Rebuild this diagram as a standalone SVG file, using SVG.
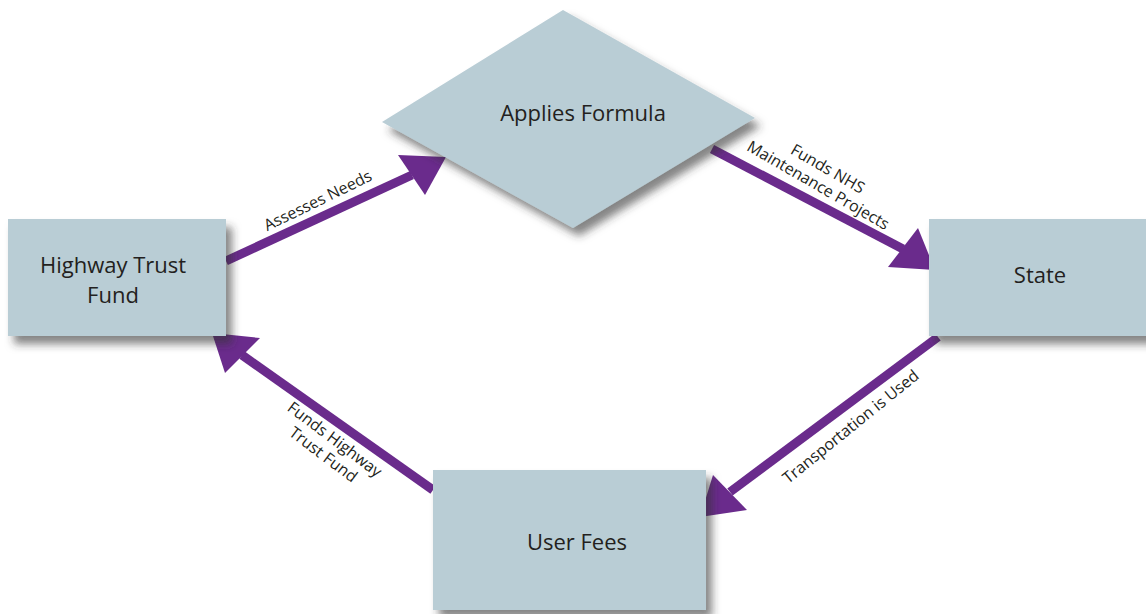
<svg xmlns="http://www.w3.org/2000/svg" width="1146" height="614" viewBox="0 0 1146 614">
<defs>
<filter id="sh" x="-20%" y="-20%" width="150%" height="150%">
<feDropShadow dx="6" dy="8" stdDeviation="4" flood-color="#333" flood-opacity="0.6"/>
</filter>
<style>
.box{fill:#b9cdd5;filter:url(#sh)}
.nt{font-family:"Open Sans","Liberation Sans",sans-serif;font-size:22px;fill:#231f20;text-anchor:middle}
.lt{font-family:"Open Sans","Liberation Sans",sans-serif;font-size:16px;fill:#231f20;text-anchor:middle}
.ln{stroke:#6a2b8c;stroke-width:9;fill:none}
.hd{fill:#6a2b8c}
</style>
</defs>
<rect width="1146" height="614" fill="#fff"/>
<g id="connectors">
<line class="ln" x1="226" y1="261" x2="412" y2="175"/>
<polygon class="hd" points="398,155 425,195 446,157"/>
<line class="ln" x1="712" y1="149" x2="903" y2="249"/>
<polygon class="hd" points="918,228 888,267 935,270"/>
<line class="ln" x1="938" y1="337" x2="730" y2="492"/>
<polygon class="hd" points="713,475 747,510 700,517"/>
<line class="ln" x1="433" y1="490" x2="242" y2="355"/>
<polygon class="hd" points="260,338 225,373 212,333"/>
<text class="lt" transform="translate(318,201) rotate(-26)" y="5">Assesses Needs</text>
<g transform="translate(823,177) rotate(30)">
<text class="lt" y="-4">Funds NHS</text>
<text class="lt" y="15">Maintenance Projects</text>
</g>
<text class="lt" transform="translate(851,427) rotate(-39)" y="5">Transportation is Used</text>
<g transform="translate(329,447) rotate(37)">
<text class="lt" y="-4">Funds Highway</text>
<text class="lt" y="15">Trust Fund</text>
</g>
</g>
<g id="node-applies-formula">
<polygon class="box" points="563,10 755,118 573,228 382,122"/>
<text class="nt" x="583" y="121">Applies Formula</text>
</g>
<g id="node-highway-trust-fund">
<rect class="box" x="8" y="219" width="218" height="117"/>
<text class="nt" x="113" y="273">Highway Trust</text>
<text class="nt" x="113" y="303">Fund</text>
</g>
<g id="node-state">
<rect class="box" x="929" y="219" width="230" height="117"/>
<text class="nt" x="1040" y="283">State</text>
</g>
<g id="node-user-fees">
<rect class="box" x="433" y="470" width="273" height="140"/>
<text class="nt" x="577" y="550">User Fees</text>
</g>
</svg>
